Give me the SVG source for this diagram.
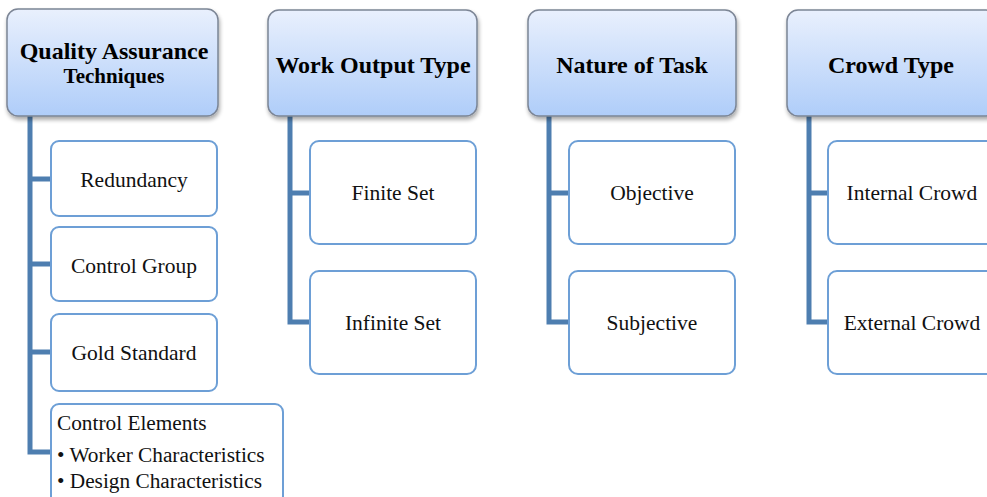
<svg xmlns="http://www.w3.org/2000/svg" width="987" height="497" viewBox="0 0 987 497">
<defs>
<linearGradient id="hg" x1="0" y1="0" x2="0" y2="1">
<stop offset="0" stop-color="#e9f0fd"/>
<stop offset="1" stop-color="#afcdf9"/>
</linearGradient>
<filter id="sh" x="-10%" y="-10%" width="125%" height="130%">
<feGaussianBlur in="SourceAlpha" stdDeviation="2"/>
<feOffset dx="1" dy="3" result="b"/>
<feComponentTransfer><feFuncA type="linear" slope="0.35"/></feComponentTransfer>
<feMerge><feMergeNode/><feMergeNode in="SourceGraphic"/></feMerge>
</filter>
</defs>
<style>
.hd{fill:url(#hg);stroke:#7b8595;stroke-width:1.5;filter:url(#sh)}
.ch{fill:#fff;stroke:#6d9fd6;stroke-width:2}
.ht{font-family:"Liberation Serif",serif;font-weight:bold;font-size:24px;fill:#000;text-anchor:middle}
.ct{font-family:"Liberation Serif",serif;font-size:21.5px;fill:#111;text-anchor:middle}
.lt{font-family:"Liberation Serif",serif;font-size:21.3px;fill:#111}
.cn{fill:none;stroke:#4e7eb0;stroke-width:5}
</style>
<g id="connectors">
<path class="cn" d="M30 116 V452 H52 M30 179 H52 M30 264 H52 M30 352 H52"/>
<path class="cn" d="M290 116 V322 H312 M290 193 H312"/>
<path class="cn" d="M549 116 V322 H571 M549 193 H571"/>
<path class="cn" d="M809 116 V322 H830 M809 193 H830"/>
</g>
<g id="h1"><rect class="hd" x="7" y="9" width="211" height="107" rx="11"/>
<text class="ht" x="114" y="59">Quality Assurance</text>
<text class="ht" x="114" y="83" style="font-size:21px">Techniques</text></g>
<g id="h2"><rect class="hd" x="268" y="10" width="209" height="106" rx="11"/>
<text class="ht" x="373" y="73">Work Output Type</text></g>
<g id="h3"><rect class="hd" x="528" y="10" width="208" height="106" rx="11"/>
<text class="ht" x="632" y="73">Nature of Task</text></g>
<g id="h4"><rect class="hd" x="787" y="10" width="210" height="106" rx="11"/>
<text class="ht" x="891" y="73">Crowd Type</text></g>
<g id="c1"><rect class="ch" x="51" y="141" width="166" height="75" rx="8"/>
<text class="ct" x="134" y="187">Redundancy</text></g>
<g id="c2"><rect class="ch" x="51" y="227" width="166" height="74" rx="8"/>
<text class="ct" x="134" y="273">Control Group</text></g>
<g id="c3"><rect class="ch" x="51" y="314" width="166" height="77" rx="8"/>
<text class="ct" x="134" y="360">Gold Standard</text></g>
<g id="c4"><rect class="ch" x="51" y="404" width="232" height="100" rx="8"/>
<text class="lt" x="57" y="430">Control Elements</text>
<text class="lt" x="57" y="462">• Worker Characteristics</text>
<text class="lt" x="57" y="488">• Design Characteristics</text></g>
<g id="c5"><rect class="ch" x="310" y="141" width="166" height="103" rx="9"/>
<text class="ct" x="393" y="200">Finite Set</text></g>
<g id="c6"><rect class="ch" x="310" y="271" width="166" height="103" rx="9"/>
<text class="ct" x="393" y="330">Infinite Set</text></g>
<g id="c7"><rect class="ch" x="569" y="141" width="166" height="103" rx="9"/>
<text class="ct" x="652" y="200">Objective</text></g>
<g id="c8"><rect class="ch" x="569" y="271" width="166" height="103" rx="9"/>
<text class="ct" x="652" y="330">Subjective</text></g>
<g id="c9"><rect class="ch" x="828" y="141" width="170" height="103" rx="9"/>
<text class="ct" x="912" y="200">Internal Crowd</text></g>
<g id="c10"><rect class="ch" x="828" y="271" width="170" height="103" rx="9"/>
<text class="ct" x="912" y="330">External Crowd</text></g>
</svg>
